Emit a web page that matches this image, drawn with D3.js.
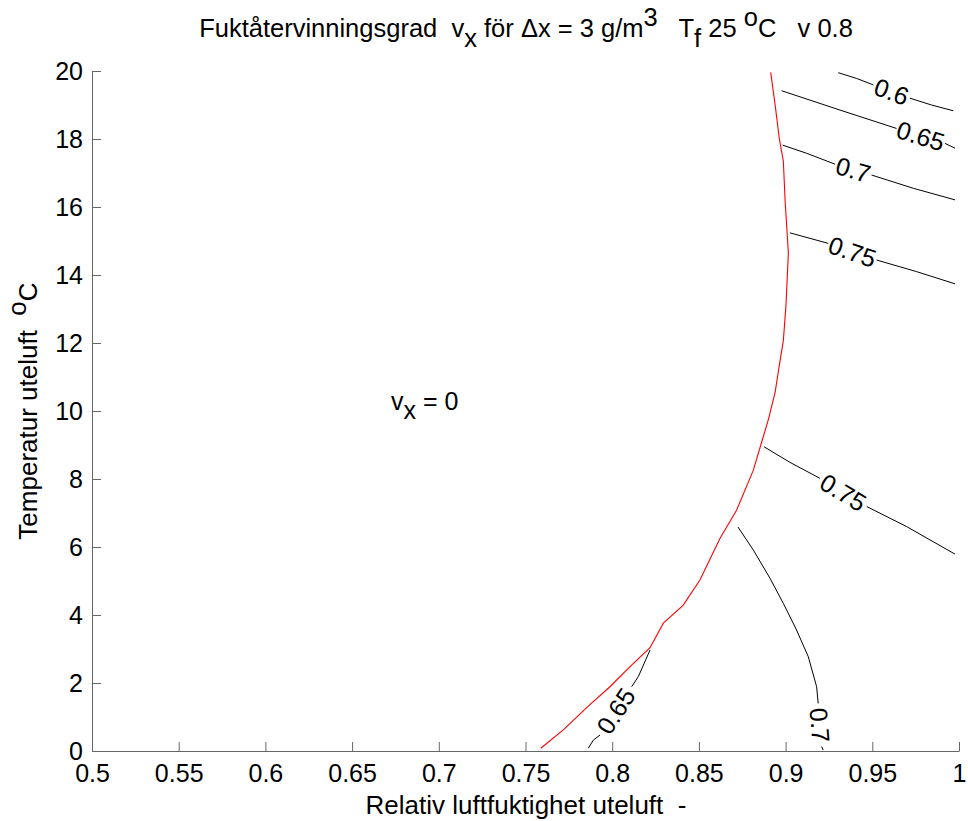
<!DOCTYPE html>
<html>
<head>
<meta charset="utf-8">
<script src="https://cdn.jsdelivr.net/npm/d3@7"></script>
<style>
  html, body { margin: 0; padding: 0; background: #fff; }
  svg { display: block; font-family: "Liberation Sans", Arial, sans-serif; }
  text { white-space: pre; }
</style>
</head>
<body>
<svg id="chart" width="968" height="821"></svg>
<script>
// ---- data ----
const xTicks = [0.5, 0.55, 0.6, 0.65, 0.7, 0.75, 0.8, 0.85, 0.9, 0.95, 1];
const xTickLabels = ["0.5", "0.55", "0.6", "0.65", "0.7", "0.75", "0.8", "0.85", "0.9", "0.95", "1"];
const yTicks = [0, 2, 4, 6, 8, 10, 12, 14, 16, 18, 20];
const yTickLabels = ["0", "2", "4", "6", "8", "10", "12", "14", "16", "18", "20"];

// red line: boundary where v_x = 0  [relative humidity, temperature]
const boundary = [
  [0.7588, 0.08], [0.7718, 0.62], [0.7862, 1.32], [0.7987, 1.89], [0.8103, 2.48],
  [0.8218, 3.04], [0.8295, 3.76], [0.8410, 4.29], [0.8506, 5.03], [0.8622, 6.26],
  [0.8718, 7.09], [0.8814, 8.26], [0.8900, 9.74], [0.8939, 10.53], [0.8962, 11.29],
  [0.8987, 12.07], [0.9002, 13.10], [0.9016, 14.65], [0.8997, 16.20], [0.8987, 17.35],
  [0.8964, 18.00], [0.8939, 19.03], [0.8914, 19.96]
];

// contour lines: part before label, part after label
const c060a = [[0.9304, 19.95], [0.9410, 19.78], [0.9506, 19.59]];
const c060b = [[0.9717, 19.20], [0.9842, 19.00], [0.9967, 18.83]];
const c065a = [[0.8977, 19.42], [0.9314, 18.85], [0.9640, 18.31]];
const c065b = [[0.9919, 17.87], [0.9977, 17.73]];
const c070a = [[0.8983, 17.82], [0.9121, 17.58], [0.9285, 17.26]];
const c070b = [[0.9496, 16.94], [0.9737, 16.55], [0.9977, 16.21]];
const c075a = [[0.9025, 15.24], [0.9246, 14.93]];
const c075b = [[0.9525, 14.44], [0.9755, 14.10], [0.9977, 13.74]];
const c075la = [[0.8875, 8.95], [0.9025, 8.49], [0.9198, 8.02]];
const c075lb = [[0.9468, 7.19], [0.9698, 6.60], [0.9977, 5.79]];
const c070la = [[0.8725, 6.59], [0.8814, 5.91], [0.8910, 5.08], [0.8987, 4.34], [0.9063, 3.56],
                [0.9131, 2.77], [0.9179, 1.89], [0.9188, 1.40]];
const c070lb = [[0.9208, 0.13], [0.9217, 0.03]];
const c065la = [[0.8218, 2.97], [0.8195, 2.70], [0.8151, 2.19], [0.8112, 1.89]];
const c065lb = [[0.7930, 0.47], [0.7891, 0.32], [0.7862, 0.08]];

const contourLabels = ["0.6", "0.65", "0.7", "0.75", "0.75", "0.7", "0.65"];
const contourParts = [
  [c060a, c060b], [c065a, c065b], [c070a, c070b], [c075a, c075b],
  [c075la, c075lb], [c070la, c070lb], [c065la, c065lb]
];

// ---- layout ----
const svg = d3.select("#chart");
const x = d3.scaleLinear().domain([0.5, 1]).range([92, 959]);
const y = d3.scaleLinear().domain([0, 20]).range([751, 71]);
const FS = 25;
const LFS = 26;

const line = d3.line().x(d => x(d[0])).y(d => y(d[1]));

// axes
const xAxis = d3.axisBottom(x).tickValues(xTicks)
  .tickFormat((d, i) => xTickLabels[i]).tickSizeInner(-9).tickSizeOuter(0).tickPadding(13);
const yAxis = d3.axisLeft(y).tickValues(yTicks)
  .tickFormat((d, i) => yTickLabels[i]).tickSizeInner(-9).tickSizeOuter(0).tickPadding(9);

const gx = svg.append("g").attr("transform", "translate(0,751)").call(xAxis);
const gy = svg.append("g").attr("transform", "translate(92,0)").call(yAxis);
[gx, gy].forEach(g => {
  g.select(".domain").attr("stroke", "#666").attr("stroke-width", 1);
  g.selectAll(".tick line").attr("stroke", "#666").attr("stroke-width", 1);
  g.selectAll(".tick text").attr("fill", "#000").style("font-size", FS + "px")
    .style("font-family", "'Liberation Sans', Arial, sans-serif");
});

// red boundary
svg.append("path").datum(boundary).attr("d", line)
  .attr("fill", "none").attr("stroke", "#ff0000").attr("stroke-width", 1.1);

// contours
contourParts.forEach((parts, i) => {
  parts.forEach(p => {
    svg.append("path").datum(p).attr("d", line)
      .attr("fill", "none").attr("stroke", "#000").attr("stroke-width", 1);
  });
  const a = parts[0][parts[0].length - 1], b = parts[1][0];
  const ax = x(a[0]), ay = y(a[1]), bx = x(b[0]), by = y(b[1]);
  let ang = Math.atan2(by - ay, bx - ax) * 180 / Math.PI;
  if (ang > 90) ang -= 180;
  if (ang < -90) ang += 180;
  const mx = (ax + bx) / 2, my = (ay + by) / 2;
  svg.append("text")
    .attr("transform", `translate(${mx},${my}) rotate(${ang})`)
    .attr("text-anchor", "middle").attr("dominant-baseline", "central")
    .style("font-size", FS + "px").text(contourLabels[i]);
});

// title
const title = svg.append("text").attr("x", 526).attr("y", 37)
  .attr("text-anchor", "middle").style("font-size", "25.5px");
title.append("tspan").text("Fuktåtervinningsgrad  v");
title.append("tspan").attr("dy", 10).text("x");
title.append("tspan").attr("dy", -10).text(" för \u0394x = 3 g/m");
title.append("tspan").attr("dy", -11).text("3");
title.append("tspan").attr("dy", 11).text("   T");
title.append("tspan").attr("dy", 10).text("f");
title.append("tspan").attr("dy", -10).text(" 25 ");
title.append("tspan").attr("dy", -11).text("o");
title.append("tspan").attr("dy", 11).text("C   v 0.8");

// v_x = 0 annotation
const ann = svg.append("text").attr("x", 391).attr("y", 410).style("font-size", FS + "px");
ann.append("tspan").text("v");
ann.append("tspan").attr("dy", 9).text("x");
ann.append("tspan").attr("dy", -9).text(" = 0");

// axis labels
svg.append("text").attr("x", 526).attr("y", 814).attr("text-anchor", "middle")
  .style("font-size", LFS + "px").text("Relativ luftfuktighet uteluft  -");

const yl = svg.append("text").attr("transform", "translate(37,411) rotate(-90)")
  .attr("text-anchor", "middle").style("font-size", LFS + "px");
yl.append("tspan").text("Temperatur uteluft  ");
yl.append("tspan").attr("dy", -11).text("o");
yl.append("tspan").attr("dy", 11).text("C");
</script>
</body>
</html>
